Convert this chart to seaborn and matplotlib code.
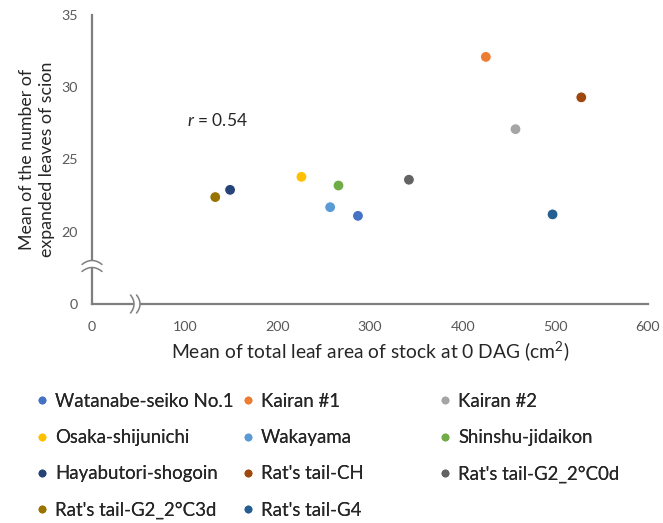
import numpy as np
import pandas as pd
import matplotlib
matplotlib.use("Agg")
import matplotlib.pyplot as plt
import seaborn as sns
from matplotlib.transforms import IdentityTransform
from matplotlib.patches import Polygon

# ---- data ----
varieties = ["Watanabe-seiko No.1", "Kairan #1", "Kairan #2", "Osaka-shijunichi",
             "Wakayama", "Shinshu-jidaikon", "Hayabutori-shogoin", "Rat's tail-CH",
             "Rat's tail-G2_2°C0d", "Rat's tail-G2_2°C3d", "Rat's tail-G4"]
leaf_area = [287, 425, 457, 226, 257, 266, 149, 528, 342, 133, 497]
leaves = [21.1, 32.1, 27.1, 23.8, 21.7, 23.2, 22.9, 29.3, 23.6, 22.4, 21.2]
colors = ["#4472C4", "#ED7D31", "#A5A5A5", "#FFC000", "#5B9BD5", "#70AD47",
          "#264478", "#9E480E", "#636363", "#997300", "#255E91"]
x_ticks = [0, 100, 200, 300, 400, 500, 600]
y_ticks = [15, 20, 25, 30, 35]
y_ticklabels = ["0", "20", "25", "30", "35"]
r_text = "0.54"

df = pd.DataFrame({"variety": varieties, "area": leaf_area, "leaves": leaves})

sns.set_style("white")
plt.rcParams["font.family"] = ["Lato", "DejaVu Sans"]
plt.rcParams["mathtext.fontset"] = "custom"
plt.rcParams["mathtext.rm"] = "Lato"
plt.rcParams["mathtext.it"] = "Lato:italic"

W, H = 663, 523
fig = plt.figure(figsize=(W / 100, H / 100), dpi=100)
ax = fig.add_axes([92 / W, 1 - 304 / H, (648 - 92) / W, (304 - 15) / H])

sns.scatterplot(data=df, x="area", y="leaves", hue="variety", hue_order=varieties,
                palette=colors, s=62, edgecolor="white", linewidth=0.8, ax=ax,
                legend="full", zorder=3, clip_on=False)
handles, labels = ax.get_legend_handles_labels()
ax.get_legend().remove()

ax.set_xlim(0, 600)
ax.set_ylim(15, 35)
ax.set_xticks(x_ticks)
ax.set_yticks(y_ticks)
ax.set_yticklabels(y_ticklabels)
ax.tick_params(axis="both", length=0, labelsize=10.3, labelcolor="#595959")
ax.tick_params(axis="x", pad=12)
ax.tick_params(axis="y", pad=10)

for side in ["top", "right"]:
    ax.spines[side].set_visible(False)
for side in ["left", "bottom"]:
    ax.spines[side].set_color("#7F7F7F")
    ax.spines[side].set_linewidth(1.6)

ax.set_xlabel("Mean of total leaf area of stock at 0 DAG (cm$^{\\mathrm{2}}$)",
              fontsize=13.9, color="#262626", labelpad=5)
ax.set_ylabel("Mean of the number of\nexpanded leaves of scion", fontsize=12.8,
              color="#262626", labelpad=5, linespacing=1.32)

ax.text(135, 27.7, "$r$ = " + r_text, fontsize=12.5, ha="center", va="center",
        color="#262626")

# ---- axis break marks (in pixel coordinates) ----
fig.canvas.draw()
idt = IdentityTransform()
# y-axis break
ax_x = 92
yb = H - 268
t = np.linspace(-1, 1, 40)
xs = ax_x + 10 * t
arc_up = yb + 3.5 - 4 * t ** 2 + 4
arc_lo = yb - 3.5 - 4 * t ** 2 + 4
poly = Polygon(np.column_stack([np.r_[xs, xs[::-1]], np.r_[arc_up, arc_lo[::-1]]]),
               closed=True, facecolor="white", edgecolor="none", transform=idt,
               zorder=5)
fig.patches.append(poly)
for arc in (arc_up, arc_lo):
    fig.lines.append(plt.Line2D(xs, arc, color="#7F7F7F", lw=1.1, transform=idt,
                                zorder=6))
# x-axis break
xb = 135
ay = H - 304
ys = ay + 9 * t
c_l = xb - 3 + 3.5 * (1 - t ** 2) - 1.5
c_r = xb + 3 + 3.5 * (1 - t ** 2) - 1.5
poly2 = Polygon(np.column_stack([np.r_[c_l, c_r[::-1]], np.r_[ys, ys[::-1]]]),
                closed=True, facecolor="white", edgecolor="none", transform=idt,
                zorder=5)
fig.patches.append(poly2)
for c in (c_l, c_r):
    fig.lines.append(plt.Line2D(c, ys, color="#7F7F7F", lw=1.1, transform=idt,
                                zorder=6))

# ---- legend: three columns ----
cols = [[0, 3, 6, 9], [1, 4, 7, 10], [2, 5, 8]]
col_x = [42, 248, 445]
for ci, idxs in enumerate(cols):
    hs = [handles[i] for i in idxs]
    for h in hs:
        h.set_markersize(5.6)
        h.set_markeredgewidth(0)
    ls = [labels[i] for i in idxs]
    leg = fig.legend(hs, ls, loc="upper left",
                     bbox_to_anchor=((col_x[ci] - 5.6) / W, 1 - 393 / H),
                     frameon=False, fontsize=13.4, handlelength=0.6,
                     handletextpad=0.4, labelspacing=1.03, borderpad=0,
                     borderaxespad=0, labelcolor="#262626")
    fig.add_artist(leg)

fig.savefig("out.png", dpi=100)
